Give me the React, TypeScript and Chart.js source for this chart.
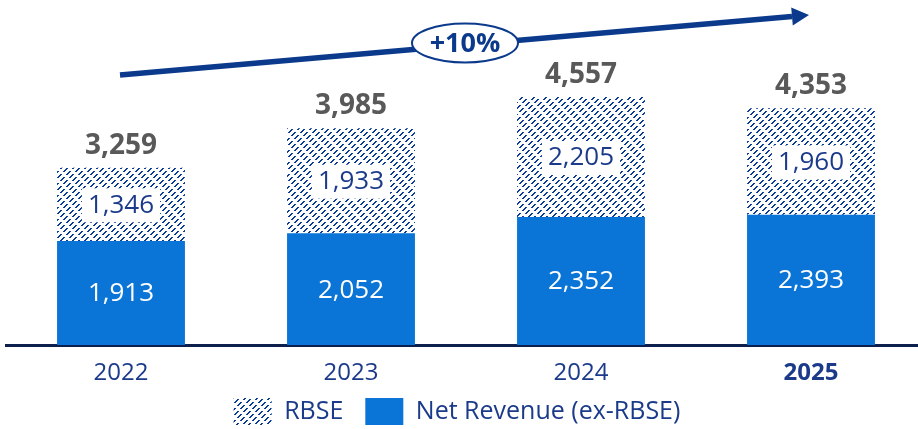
import React, { useEffect, useRef } from "react";
import { Chart, registerables } from "chart.js";

Chart.register(...registerables);

const categories = ["2022", "2023", "2024", "2025"];
const netRevenue = [1913, 2052, 2352, 2393];
const rbse = [1346, 1933, 2205, 1960];
const totals = [3259, 3985, 4557, 4353];
const growthLabel = "+10%";
const seriesNames = ["Net Revenue (ex-RBSE)", "RBSE"];

const NAVY = "#0B3A8C";
const TEXT_NAVY = "#1B3A8A";
const BLUE = "#0A75D6";
const FONT = "'Open Sans', 'Noto Sans', sans-serif";

function makePattern(): CanvasPattern | string {
  const c = document.createElement("canvas");
  const s = 12;
  c.width = s;
  c.height = s;
  const ctx = c.getContext("2d");
  if (!ctx) return NAVY;
  ctx.fillStyle = "#ffffff";
  ctx.fillRect(0, 0, s, s);
  ctx.fillStyle = "#0A3C96";
  for (let y = 0; y < s; y++) {
    for (let x = 0; x < s; x++) {
      const d = (x + y) % 6;
      const along = (((x - y) % 12) + 12) % 12;
      if ((d === 0 || d === 1) && along < 8) ctx.fillRect(x, y, 1, 1);
    }
  }
  const p = ctx.createPattern(c, "repeat");
  return p || NAVY;
}

const fmt = (v: number) => v.toLocaleString("en-US");

const labelPlugin = {
  id: "valueLabels",
  afterLayout(chart: any) {
    const lg = chart.legend;
    if (lg) {
      lg.left -= 9;
      lg.right -= 9;
    }
    const xs = chart.scales.x;
    if (xs) xs.bottom += 40;
  },
  afterDatasetsDraw(chart: any) {
    const ctx = chart.ctx;
    const net = chart.getDatasetMeta(0);
    const rb = chart.getDatasetMeta(1);
    ctx.save();
    ctx.textAlign = "center";
    ctx.textBaseline = "middle";
    net.data.forEach((bar: any, i: number) => {
      ctx.font = `26px ${FONT}`;
      ctx.fillStyle = "#ffffff";
      ctx.fillText(fmt(netRevenue[i]), bar.x, (bar.y + bar.base) / 2 + 1);
    });
    rb.data.forEach((bar: any, i: number) => {
      const txt = fmt(rbse[i]);
      ctx.font = `26px ${FONT}`;
      const w = ctx.measureText(txt).width;
      const cy = (bar.y + bar.base) / 2 + 1;
      ctx.fillStyle = "#ffffff";
      ctx.fillRect(bar.x - w / 2 - 6, cy - 17, w + 12, 34);
      ctx.fillStyle = TEXT_NAVY;
      ctx.fillText(txt, bar.x, cy);
      ctx.font = `bold 28px ${FONT}`;
      ctx.fillStyle = "#595959";
      ctx.fillText(fmt(totals[i]), bar.x, bar.y - 22);
    });
    ctx.restore();
  },
  afterDraw(chart: any) {
    const ctx = chart.ctx;
    ctx.save();
    const x0 = 120, y0 = 75, x1 = 792, y1 = 16.5, tipX = 809, tipY = 15;
    ctx.strokeStyle = NAVY;
    ctx.lineWidth = 5.5;
    ctx.beginPath();
    ctx.moveTo(x0, y0);
    ctx.lineTo(x1, y1);
    ctx.stroke();
    const ang = Math.atan2(tipY - y1, tipX - x1);
    const hw = 9;
    ctx.fillStyle = NAVY;
    ctx.beginPath();
    ctx.moveTo(tipX, tipY);
    ctx.lineTo(x1 + Math.sin(ang) * hw, y1 - Math.cos(ang) * hw);
    ctx.lineTo(x1 - Math.sin(ang) * hw, y1 + Math.cos(ang) * hw);
    ctx.closePath();
    ctx.fill();
    ctx.beginPath();
    ctx.ellipse(465, 43, 53, 19.5, 0, 0, Math.PI * 2);
    ctx.fillStyle = "#ffffff";
    ctx.fill();
    ctx.lineWidth = 2;
    ctx.strokeStyle = NAVY;
    ctx.stroke();
    ctx.fillStyle = NAVY;
    ctx.font = `bold 27px ${FONT}`;
    ctx.textAlign = "center";
    ctx.textBaseline = "middle";
    ctx.fillText(growthLabel, 465, 44);
    ctx.restore();
  },
};

export default function App() {
  const ref = useRef<HTMLCanvasElement | null>(null);
  useEffect(() => {
    if (!ref.current) return;
    const pattern = makePattern();
    const chart = new Chart(ref.current, {
      type: "bar",
      data: {
        labels: categories,
        datasets: [
          {
            label: seriesNames[0],
            data: netRevenue,
            backgroundColor: BLUE,
            borderWidth: 0,
          },
          {
            label: seriesNames[1],
            data: rbse,
            backgroundColor: pattern as any,
            borderWidth: 0,
          },
        ],
      },
      options: {
        animation: false,
        responsive: true,
        maintainAspectRatio: false,
        layout: { padding: { left: 6, right: 0, top: 0, bottom: 0 } },
        datasets: {
          bar: { categoryPercentage: 1, barPercentage: 0.556 },
        },
        scales: {
          x: {
            stacked: true,
            grid: { display: false },
            border: { display: true, color: "#0D1F4D", width: 3 },
            afterFit: (scale: any) => {
              scale.height = 31;
            },
            ticks: {
              color: TEXT_NAVY,
              padding: 6,
              font: (c: any) => ({
                family: FONT,
                size: 24,
                weight: c.index === 3 ? "bold" : "normal",
              }),
            },
          },
          y: {
            stacked: true,
            display: false,
            min: 0,
            max: 6340,
          },
        },
        plugins: {
          tooltip: { enabled: false },
          legend: {
            position: "bottom",
            reverse: true,
            labels: {
              boxWidth: 38,
              boxHeight: 27,
              padding: 22,
              color: TEXT_NAVY,
              font: { family: FONT, size: 25 },
            },
          },
        },
      },
      plugins: [labelPlugin],
    });
    return () => chart.destroy();
  }, []);
  return (
    <div style={{ position: "fixed", left: 0, top: 0, width: 918, height: 429, overflow: "hidden", background: "#fff" }}>
      <div style={{ position: "absolute", left: 0, top: 0, width: 926, height: 435 }}>
        <canvas ref={ref} />
      </div>
    </div>
  );
}
